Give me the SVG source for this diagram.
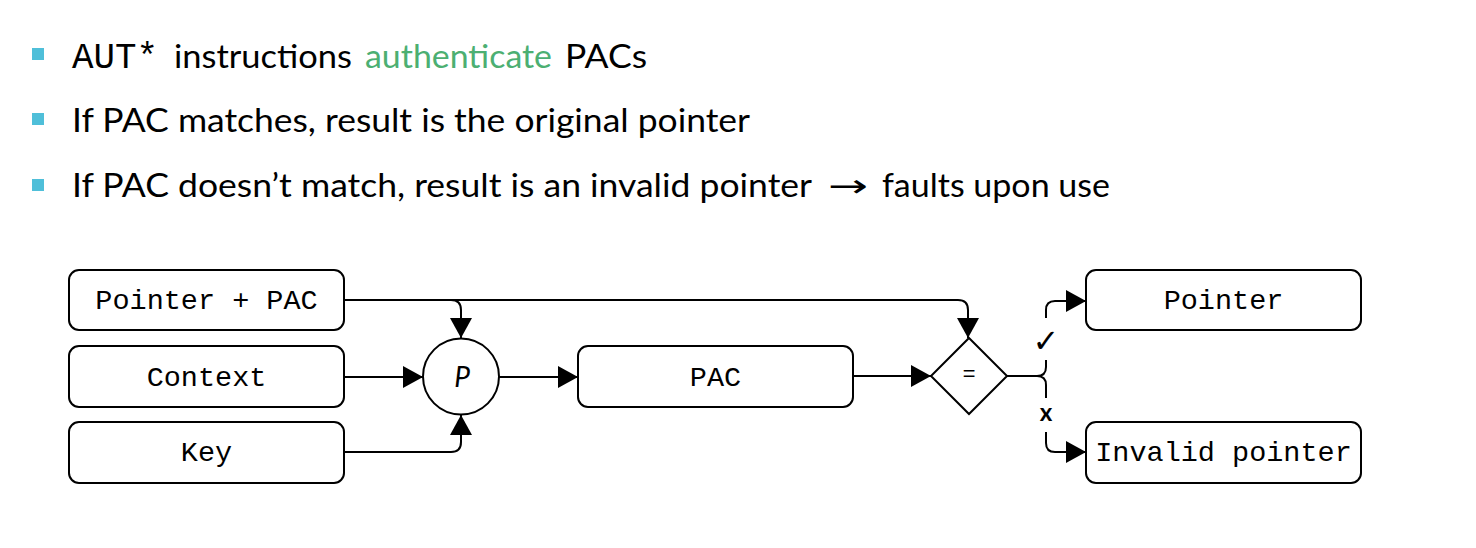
<svg xmlns="http://www.w3.org/2000/svg" width="1476" height="548" viewBox="0 0 1476 548">
<style>
.bul{fill:#4FBFD9}
.t{font-family:Lato,"Open Sans","Liberation Sans",sans-serif;font-size:32px;fill:#000}
.box{fill:#fff;stroke:#000;stroke-width:2}
.lbl{font-family:"Liberation Mono","DejaVu Sans Mono",monospace;font-size:28.5px;fill:#000;text-anchor:middle}
.c{fill:none;stroke:#000;stroke-width:2}
</style>
<defs>
<marker id="ah" markerUnits="userSpaceOnUse" markerWidth="21" markerHeight="22" refX="20" refY="11" orient="auto" viewBox="0 0 21 22">
<path d="M0,0 L20,11 L0,22 Z" fill="#000"/>
</marker>
</defs>
<rect fill="#fff" width="1476" height="548"/>
<g id="bullets">
<rect class="bul" x="32" y="48" width="12" height="12"/>
<rect class="bul" x="32" y="113" width="12" height="12"/>
<rect class="bul" x="32" y="179" width="12" height="12"/>
<text x="72" y="68" textLength="86" lengthAdjust="spacingAndGlyphs" style="font-family:'Liberation Mono',monospace;font-size:36px;fill:#000">AUT*</text>
<text class="t" x="174" y="68" textLength="178" lengthAdjust="spacingAndGlyphs">instructions</text>
<text class="t" x="365" y="68" textLength="187" lengthAdjust="spacingAndGlyphs" style="fill:#4CAF72">authenticate</text>
<text class="t" x="565" y="68" textLength="82" lengthAdjust="spacingAndGlyphs">PACs</text>
<text class="t" x="72" y="132" textLength="678" lengthAdjust="spacingAndGlyphs">If PAC matches, result is the original pointer</text>
<text class="t" x="72" y="197" textLength="740" lengthAdjust="spacingAndGlyphs">If PAC doesn’t match, result is an invalid pointer</text>
<text class="t" x="828" y="197" textLength="40" lengthAdjust="spacingAndGlyphs" style="font-family:'DejaVu Sans',sans-serif">→</text>
<text class="t" x="882" y="197" textLength="228" lengthAdjust="spacingAndGlyphs">faults upon use</text>
</g>
<g id="connectors">
<path class="c" d="M344,300 H958 Q968,300 968,310 V338" marker-end="url(#ah)"/>
<path class="c" d="M451,300 Q461,300 461,310 V338" marker-end="url(#ah)"/>
<path class="c" d="M344,377 H423" marker-end="url(#ah)"/>
<path class="c" d="M344,452 H451 Q461,452 461,442 V415" marker-end="url(#ah)"/>
<path class="c" d="M499,377 H578" marker-end="url(#ah)"/>
<path class="c" d="M853,376 H931" marker-end="url(#ah)"/>
<path class="c" d="M1007,376 H1037 Q1046,376 1046,367 V360"/>
<path class="c" d="M1046,318 V310 Q1046,301 1055,301 H1086" marker-end="url(#ah)"/>
<path class="c" d="M1037,376 Q1046,376 1046,385 V398"/>
<path class="c" d="M1046,432 V443 Q1046,452 1055,452 H1086" marker-end="url(#ah)"/>
<text x="1046" y="352" text-anchor="middle" style="font-family:'DejaVu Sans',sans-serif;font-size:32px">✓</text>
<text x="1046" y="421" text-anchor="middle" style="font-family:Lato,'Liberation Sans',sans-serif;font-size:24px;font-weight:bold">x</text>
</g>
<g id="node-pointer-pac"><rect class="box" x="69" y="270" width="275" height="60" rx="10"/><text class="lbl" x="206.5" y="309">Pointer + PAC</text></g>
<g id="node-context"><rect class="box" x="69" y="346" width="275" height="61" rx="10"/><text class="lbl" x="206.5" y="386">Context</text></g>
<g id="node-key"><rect class="box" x="69" y="422" width="275" height="61" rx="10"/><text class="lbl" x="206.5" y="461">Key</text></g>
<g id="node-p"><circle class="box" cx="461" cy="376.5" r="38"/><text x="462" y="387" text-anchor="middle" style="font-family:Lato,'Open Sans',sans-serif;font-size:28px;font-style:italic">P</text></g>
<g id="node-pac"><rect class="box" x="578" y="346" width="275" height="61" rx="10"/><text class="lbl" x="715.5" y="386">PAC</text></g>
<g id="node-eq"><path class="box" d="M969,338 L1007,376 L969,414 L931,376 Z"/><text x="969" y="381" text-anchor="middle" style="font-family:'Liberation Mono',monospace;font-size:22px">=</text></g>
<g id="node-pointer"><rect class="box" x="1086" y="270" width="275" height="60" rx="10"/><text class="lbl" x="1223.5" y="309">Pointer</text></g>
<g id="node-invalid"><rect class="box" x="1086" y="422" width="275" height="61" rx="10"/><text class="lbl" x="1223.5" y="461">Invalid pointer</text></g>
</svg>
